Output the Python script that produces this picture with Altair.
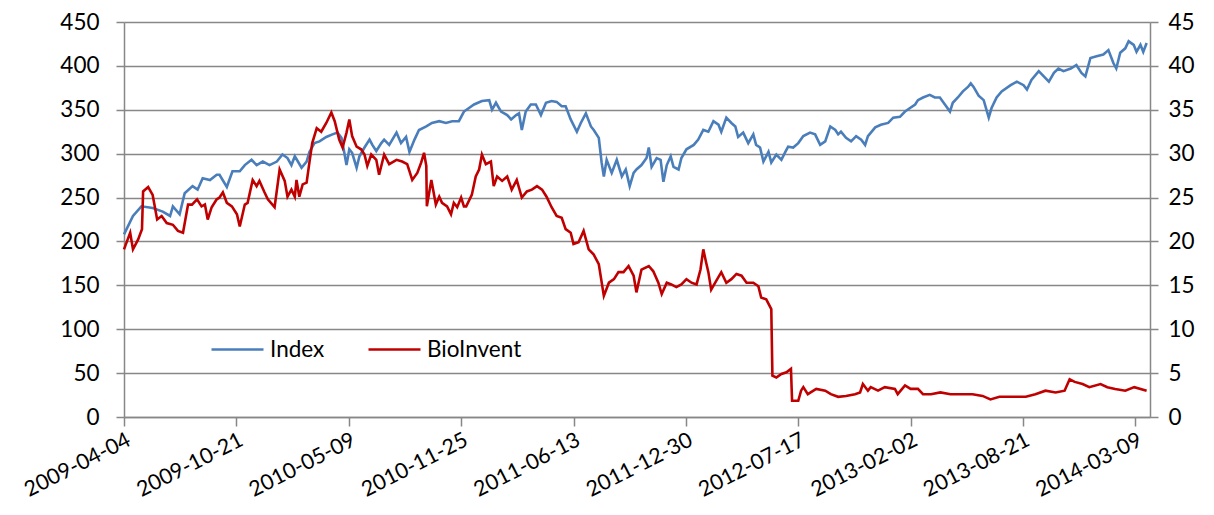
import altair as alt
import pandas as pd

START = "2009-04-04"

# Index (left axis): day offset from 2009-04-04, value
index_days = [0, 16, 31, 51, 69, 82, 87, 99, 108, 122, 131, 140, 153, 165, 170, 183, 193, 206, 215, 227,
              236, 247, 259, 272, 282, 291, 298, 304, 316, 325, 330, 339, 348, 360, 371, 380, 387, 389, 396, 401,
              406, 414, 419, 428, 437, 442, 449, 458, 463, 472, 485, 493, 502, 508, 517, 525, 538, 548, 561, 573,
              584, 596, 605, 614, 623, 637, 650, 655, 662, 671, 682, 689, 698, 703, 708, 715, 724, 733, 742, 751,
              761, 770, 779, 786, 795, 806, 813, 822, 831, 836, 845, 850, 854, 859, 868, 877, 886, 893, 900, 907,
              912, 921, 930, 934, 939, 948, 955, 960, 966, 973, 978, 987, 992, 1001, 1014, 1022, 1031, 1040, 1049, 1058,
              1063, 1072, 1081, 1088, 1093, 1102, 1111, 1120, 1125, 1132, 1138, 1147, 1152, 1161, 1170, 1177, 1182, 1191, 1200, 1209,
              1221, 1230, 1239, 1248, 1257, 1266, 1271, 1276, 1285, 1294, 1303, 1312, 1319, 1324, 1337, 1347, 1360, 1369, 1381, 1390,
              1399, 1408, 1413, 1422, 1434, 1443, 1452, 1461, 1470, 1475, 1484, 1493, 1502, 1507, 1512, 1521, 1530, 1539, 1544, 1553,
              1562, 1578, 1589, 1601, 1607, 1615, 1628, 1637, 1646, 1655, 1663, 1672, 1685, 1695, 1704, 1711, 1720, 1731, 1743, 1752,
              1761, 1766, 1773, 1782, 1788, 1797, 1802, 1809, 1814, 1820]
index_vals = [208, 229, 240, 238, 234, 229, 240, 231, 255, 263, 259, 272, 270, 276, 276, 262, 280, 280, 287, 293,
              287, 291, 287, 291, 299, 295, 287, 297, 284, 291, 302, 312, 314, 319, 322, 324, 318, 312, 287, 305,
              301, 284, 297, 307, 316, 310, 303, 312, 316, 310, 324, 312, 319, 302, 316, 327, 331, 335, 337, 335,
              337, 337, 348, 352, 356, 360, 361, 350, 358, 348, 344, 339, 344, 346, 327, 348, 356, 356, 344, 358,
              360, 359, 354, 354, 339, 325, 335, 346, 331, 327, 318, 290, 274, 293, 278, 293, 274, 282, 263, 278,
              282, 287, 295, 307, 285, 295, 293, 268, 287, 297, 285, 282, 295, 305, 310, 316, 327, 325, 337, 333,
              325, 341, 335, 331, 319, 324, 312, 322, 310, 307, 291, 302, 290, 299, 293, 302, 308, 307, 312, 320,
              324, 322, 310, 314, 331, 327, 322, 325, 318, 314, 320, 316, 310, 320, 330, 333, 335, 341, 342, 348,
              352, 356, 361, 364, 367, 364, 364, 356, 348, 358, 364, 371, 376, 380, 376, 366, 361, 341, 352, 364,
              371, 378, 382, 378, 373, 384, 394, 388, 382, 392, 397, 394, 397, 401, 392, 388, 409, 411, 413, 418,
              403, 397, 415, 420, 428, 424, 416, 424, 416, 426]

# BioInvent (right axis)
bio_days = [0, 11, 16, 25, 32, 34, 43, 51, 59, 67, 76, 87, 96, 105, 114, 121, 130, 138, 144, 149,
            156, 165, 170, 176, 183, 192, 201, 206, 215, 220, 229, 236, 241, 250, 256, 268, 277, 286, 291, 298,
            304, 307, 312, 318, 325, 330, 335, 343, 351, 360, 369, 375, 383, 389, 396, 401, 406, 414, 422, 428,
            433, 440, 449, 454, 463, 472, 485, 495, 504, 513, 522, 529, 534, 538, 539, 547, 555, 561, 566, 575,
            582, 587, 593, 600, 605, 609, 619, 626, 632, 637, 644, 653, 658, 664, 673, 682, 690, 699, 708, 717,
            726, 735, 744, 752, 761, 770, 779, 786, 795, 800, 809, 818, 827, 836, 845, 854, 863, 872, 880, 889,
            898, 907, 912, 921, 934, 942, 951, 957, 966, 974, 983, 992, 1001, 1010, 1019, 1026, 1031, 1036, 1040, 1045,
            1054, 1063, 1072, 1081, 1090, 1099, 1108, 1120, 1129, 1134, 1143, 1152, 1154, 1161, 1170, 1179, 1187, 1189, 1200, 1205,
            1209, 1217, 1232, 1248, 1258, 1271, 1285, 1301, 1310, 1315, 1324, 1329, 1342, 1354, 1372, 1377, 1390, 1400, 1413, 1422,
            1436, 1453, 1471, 1489, 1510, 1528, 1542, 1558, 1581, 1605, 1622, 1640, 1658, 1674, 1683, 1692, 1706, 1718, 1738, 1750,
            1764, 1782, 1798, 1820]
bio_vals = [19.1, 21.0, 19.1, 20.2, 21.4, 25.7, 26.2, 25.3, 22.5, 22.9, 22.1, 21.9, 21.2, 21.0, 24.2, 24.2, 24.8, 24.0, 24.2, 22.5,
            23.9, 24.8, 25.0, 25.6, 24.4, 24.0, 23.1, 21.7, 24.2, 24.4, 27.0, 26.3, 26.9, 25.6, 24.8, 23.9, 28.2, 26.9, 25.1, 25.9,
            25.1, 27.0, 25.1, 26.5, 26.7, 29.0, 31.2, 32.9, 32.5, 33.5, 34.7, 33.7, 31.6, 30.7, 32.4, 33.9, 32.0, 30.8, 30.5, 29.9,
            28.6, 29.9, 29.3, 27.6, 29.9, 28.8, 29.3, 29.1, 28.8, 27.0, 27.8, 29.0, 30.1, 28.6, 24.0, 27.0, 24.2, 25.1, 24.4, 24.0,
            23.1, 24.4, 23.9, 25.0, 24.0, 24.0, 25.3, 27.4, 28.2, 29.9, 28.8, 29.1, 26.3, 27.4, 26.9, 27.4, 25.9, 27.0, 25.0, 25.7,
            25.9, 26.3, 25.9, 25.1, 23.9, 22.9, 22.7, 21.4, 21.0, 19.7, 19.9, 21.2, 19.1, 18.5, 17.4, 13.8, 15.3, 15.7, 16.5, 16.5,
            17.2, 16.1, 14.2, 16.8, 17.2, 16.6, 15.3, 14.0, 15.3, 15.1, 14.8, 15.1, 15.7, 15.3, 15.1, 16.8, 19.1, 17.6, 16.5, 14.5,
            15.5, 16.5, 15.3, 15.7, 16.3, 16.1, 15.3, 15.3, 14.9, 13.6, 13.4, 12.3, 4.7, 4.5, 4.9, 5.1, 5.5, 1.85, 1.85, 3.0,
            3.4, 2.6, 3.2, 3.0, 2.6, 2.3, 2.4, 2.6, 2.8, 3.75, 3.0, 3.4, 3.0, 3.4, 3.2, 2.6, 3.6, 3.2, 3.2, 2.6,
            2.6, 2.8, 2.6, 2.6, 2.6, 2.4, 2.0, 2.3, 2.3, 2.3, 2.6, 3.0, 2.8, 3.0, 4.3, 4.0, 3.75, 3.4, 3.75, 3.4,
            3.2, 3.0, 3.4, 3.0]

tick_dates = ["2009-04-04", "2009-10-21", "2010-05-09", "2010-11-25", "2011-06-13",
              "2011-12-30", "2012-07-17", "2013-02-02", "2013-08-21", "2014-03-09"]
series_names = ["Index", "BioInvent"]
series_colors = ["#4A7EBB", "#C00000"]

start = pd.Timestamp(START)
df_index = pd.DataFrame({
    "date": [(start + pd.Timedelta(days=d)).strftime("%Y-%m-%d") for d in index_days],
    "value": index_vals, "series": "Index"})
df_bio = pd.DataFrame({
    "date": [(start + pd.Timedelta(days=d)).strftime("%Y-%m-%d") for d in bio_days],
    "value": bio_vals, "series": "BioInvent"})

def dt(s):
    y, m, d = s.split("-")
    return alt.DateTime(year=int(y), month=int(m), date=int(d), utc=True)

FONT = "Lato"
FS = 22.5
GRID = "#878787"

xenc = alt.X("date:T",
             scale=alt.Scale(type="utc", domain=[dt("2009-04-04"), dt("2014-04-04")], nice=False),
             axis=alt.Axis(title=None, values=[dt(s) for s in tick_dates],
                           labelExpr="utcFormat(datum.value, '%Y-%m-%d')",
                           labelAngle=-27, labelAlign="right", labelBaseline="top",
                           labelFontSize=21.5, labelFont=FONT, labelColor="black", labelPadding=3,
                           tickSize=9, tickColor=GRID, domainColor=GRID, domainWidth=1.5, tickWidth=1.5,
                           grid=False, labelOverlap=False, labelFlush=False))

color = alt.Color("series:N",
                  scale=alt.Scale(domain=series_names, range=series_colors),
                  legend=alt.Legend(title=None, orient="none", legendX=86, legendY=300,
                                    direction="horizontal", symbolType="stroke", symbolSize=2704,
                                    symbolStrokeWidth=2.6, labelFontSize=FS, labelFont=FONT,
                                    labelColor="black", columnPadding=38, labelOffset=5, padding=0))

left = alt.Chart(df_index).mark_line(strokeWidth=2.6).encode(
    x=xenc,
    y=alt.Y("value:Q", scale=alt.Scale(domain=[0, 450], nice=False),
            axis=alt.Axis(title=None, orient="left", values=list(range(0, 451, 50)),
                          labelFontSize=FS, labelFont=FONT, labelColor="black", labelPadding=17,
                          tickSize=8, tickColor=GRID, tickWidth=1.5, domainColor=GRID, domainWidth=1.5,
                          grid=True, gridColor=GRID, gridWidth=1.5)),
    color=color,
)

right = alt.Chart(df_bio).mark_line(strokeWidth=2.6).encode(
    x=xenc,
    y=alt.Y("value:Q", scale=alt.Scale(domain=[0, 45], nice=False),
            axis=alt.Axis(title=None, orient="right", values=list(range(0, 46, 5)),
                          labelFontSize=FS, labelFont=FONT, labelColor="black", labelPadding=10,
                          tickSize=8, tickColor=GRID, tickWidth=1.5, domainColor=GRID, domainWidth=1.5,
                          grid=False)),
    color=color,
)

chart = alt.layer(left, right).resolve_scale(y="independent").properties(
    width=1026, height=395,
    autosize=alt.AutoSizeParams(type="none"),
    padding={"left": 116, "top": 14, "right": 56, "bottom": 90},
).configure_view(stroke=None)

chart.save("out.html", embed_options={"renderer": "svg", "actions": False})
